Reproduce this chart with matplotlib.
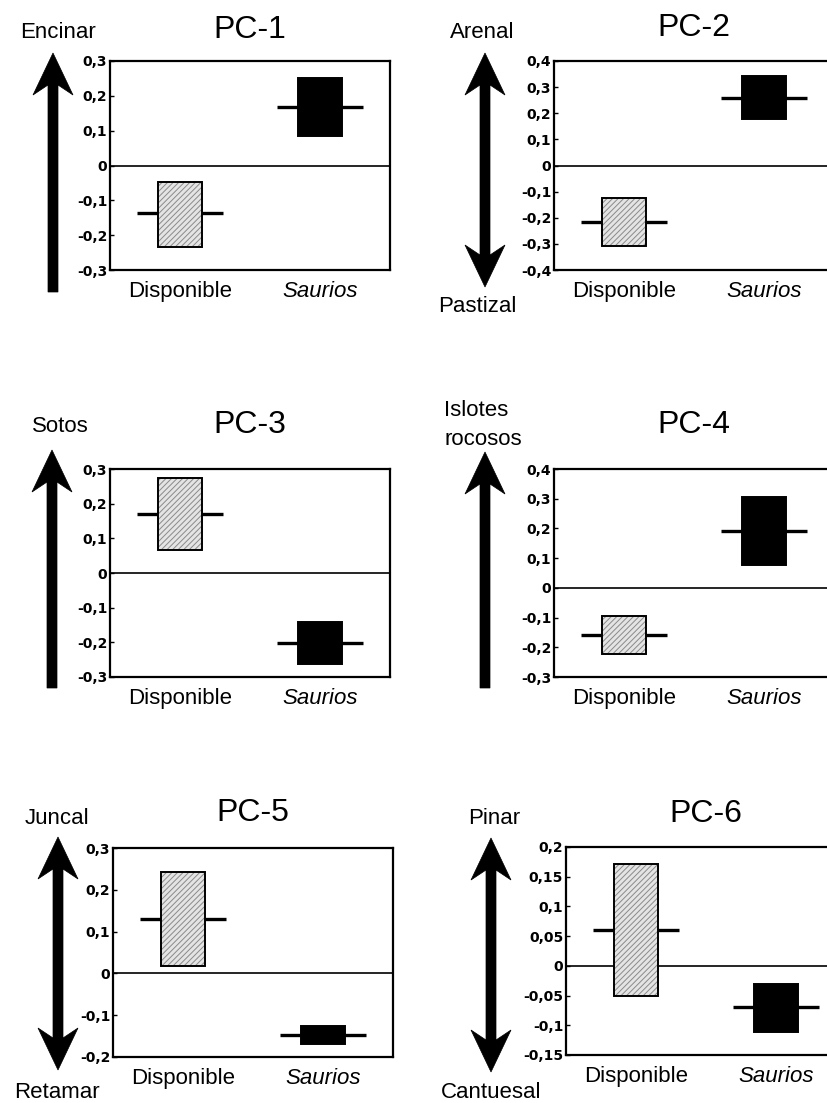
import matplotlib
matplotlib.use("Agg")
import matplotlib.pyplot as plt
from matplotlib.patches import Polygon

plt.rcParams['font.family'] = ['Liberation Sans', 'DejaVu Sans']
plt.rcParams['hatch.linewidth'] = 0.7

# data (mean and box limits for each PC)
panels = ['PC-1', 'PC-2', 'PC-3', 'PC-4', 'PC-5', 'PC-6']
categories = ['Disponible', 'Saurios']
disp_mean = [-0.137, -0.218, 0.171, -0.158, 0.130, 0.060]
disp_lo = [-0.234, -0.310, 0.065, -0.224, 0.018, -0.050]
disp_hi = [-0.047, -0.125, 0.274, -0.095, 0.243, 0.172]
saur_mean = [0.168, 0.260, -0.202, 0.193, -0.148, -0.070]
saur_lo = [0.085, 0.178, -0.262, 0.078, -0.169, -0.112]
saur_hi = [0.251, 0.341, -0.140, 0.305, -0.127, -0.030]
ylims = [(-0.3, 0.3), (-0.4, 0.4), (-0.3, 0.3), (-0.3, 0.4), (-0.2, 0.3), (-0.15, 0.2)]
ystep = [0.1, 0.1, 0.1, 0.1, 0.1, 0.05]
top_labels = ['Encinar', 'Arenal', 'Sotos', 'Islotes\nrocosos', 'Juncal', 'Pinar']
bottom_labels = [None, 'Pastizal', None, None, 'Retamar', 'Cantuesal']

W, H = 827, 1103
fig = plt.figure(figsize=(W / 100, H / 100), dpi=100)

# layout in pixels: axes left, top, bottom; arrow x, top, bottom; title y
layout = [
    (110, 61, 270, 53, 53, 292, 30),
    (554, 61, 270, 485, 53, 287, 28),
    (110, 469, 677, 52, 450, 688, 425),
    (554, 469, 677, 485, 452, 688, 425),
    (113, 848, 1057, 58, 837, 1070, 813),
    (566, 847, 1055, 491, 838, 1072, 814),
]
top_pos = [(58, 32, 'center'), (482, 32, 'center'), (60, 427, 'center'),
           (444, 425, 'left'), (57, 818, 'center'), (494, 818, 'center')]
bot_pos = [None, (477, 307), None, None, (57, 1092), (491, 1092)]
AW = 280
LBL = 16


def fx(x):
    return x / W


def fy(y):
    return 1 - y / H


def big_arrow(x, y0, y1, double):
    sw, hw, hl, notch = 5, 20, 42, 10
    top = [(x, y0), (x + hw, y0 + hl), (x + sw, y0 + hl - notch)]
    if double:
        bot = [(x + sw, y1 - hl + notch), (x + hw, y1 - hl), (x, y1),
               (x - hw, y1 - hl), (x - sw, y1 - hl + notch)]
    else:
        bot = [(x + sw, y1), (x - sw, y1)]
    pts = top + bot + [(x - sw, y0 + hl - notch), (x - hw, y0 + hl)]
    fig.patches.append(Polygon([(fx(a), fy(b)) for a, b in pts], closed=True,
                               transform=fig.transFigure, facecolor='black',
                               edgecolor='black', lw=0.5))


def fmt(v):
    if abs(v) < 1e-9:
        return '0'
    s = ('%.2f' % v).rstrip('0')
    return s.replace('.', ',')


bw = 0.314
wl = 0.614
for i in range(6):
    left, top, bottom, axx, ay0, ay1, ty = layout[i]
    ax = fig.add_axes([fx(left), fy(bottom), AW / W, (bottom - top) / H])
    ax.set_xlim(0.5, 2.5)
    ax.set_ylim(*ylims[i])
    ax.axhline(0, color='black', lw=1.2, zorder=1)

    xs = [1, 2]
    means = [disp_mean[i], saur_mean[i]]
    los = [disp_lo[i], saur_lo[i]]
    his = [disp_hi[i], saur_hi[i]]
    ax.hlines(means, [x - wl / 2 for x in xs], [x + wl / 2 for x in xs],
              color='black', lw=2.4, zorder=2)
    heights = [h - l for h, l in zip(his, los)]
    # hatched grey box, then outline
    ax.bar(xs[0], heights[0], bottom=los[0], width=bw, color='#e4e4e4',
           hatch='//////', edgecolor='#8a8a8a', lw=0, zorder=3)
    ax.bar(xs[0], heights[0], bottom=los[0], width=bw, fill=False,
           edgecolor='black', lw=1.4, zorder=4)
    ax.bar(xs[1], heights[1], bottom=los[1], width=bw, color='black',
           edgecolor='black', lw=1.4, zorder=3)

    lo, hi = ylims[i]
    n = int(round((hi - lo) / ystep[i]))
    ticks = [lo + k * ystep[i] for k in range(n + 1)]
    ax.set_yticks(ticks)
    ax.set_yticklabels([fmt(t) for t in ticks], fontsize=10, fontweight='bold',
                       family='DejaVu Sans')
    ax.set_xticks(xs)
    ax.set_xticklabels(categories, fontsize=LBL)
    ax.get_xticklabels()[1].set_style('italic')
    ax.tick_params(axis='x', length=0, pad=8)
    ax.tick_params(axis='y', length=3, width=1, direction='in', pad=2)
    for sp in ax.spines.values():
        sp.set_linewidth(1.6)

    fig.text(fx(left + AW / 2), fy(ty), panels[i], fontsize=23,
             ha='center', va='center')
    tx, tyl, ha = top_pos[i]
    fig.text(fx(tx), fy(tyl), top_labels[i], fontsize=LBL, ha=ha, va='center',
             linespacing=1.55)
    if bottom_labels[i]:
        bx, by = bot_pos[i]
        fig.text(fx(bx), fy(by), bottom_labels[i], fontsize=LBL,
                 ha='center', va='center')
    big_arrow(axx, ay0, ay1, bottom_labels[i] is not None)

fig.savefig('out.png', dpi=100)
